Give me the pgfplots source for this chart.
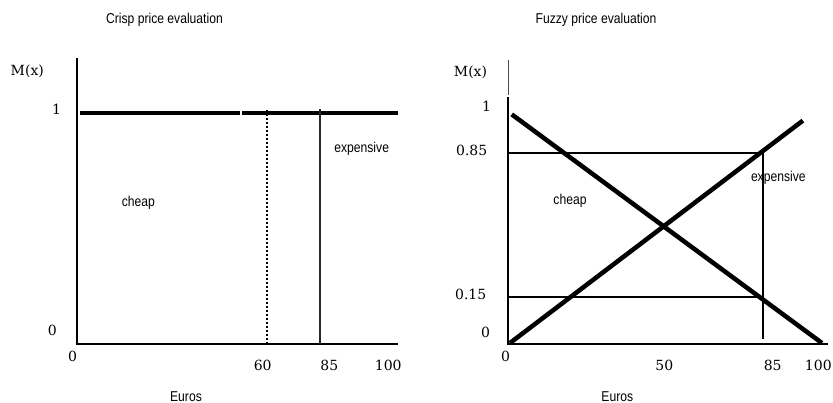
\documentclass[border=0pt]{standalone}
\usepackage{pgfplots}
\pgfplotsset{compat=1.18}
\usepackage{fontspec}
\setmainfont{DejaVu Serif}
\newfontfamily\narrow[FakeStretch=0.85]{Liberation Sans}
% pixel position of the reference -> picture coordinates
\newcommand\pp[2]{({#1*0.75pt},{-#2*0.75pt})}
\newcommand\num{\fontsize{10.5pt}{12pt}\selectfont}
\newcommand\lab{\narrow\fontsize{10.7pt}{12pt}\selectfont}

\begin{document}
\begin{tikzpicture}
\path[use as bounding box] \pp{0}{0} rectangle \pp{833}{403};

% ---------- crisp ----------
\begin{axis}[
    at={(57.75pt,-258pt)}, anchor=south west,
    x=2.4075pt, y=173.25pt,
    xmin=0, xmax=100, ymin=0, ymax=1.238,
    axis lines=none, clip=false,
    xtick=\empty, ytick=\empty,
]
\draw[line width=1.6pt] (axis cs:0,1.238) -- (axis cs:0,0) -- (axis cs:100,0);
\addplot[black, line width=3.7pt] coordinates {(0.9,1) (50.8,1)};
\addplot[black, line width=3.7pt] coordinates {(51.4,1) (100,1)};
\addplot[black, line width=1.7pt, dash pattern=on 1.5pt off 1.5pt] coordinates {(59.2,1.013) (59.2,0)};
\addplot[black!85, line width=1.5pt] coordinates {(75.8,1.017) (75.8,0)};
\end{axis}

% ---------- fuzzy ----------
\begin{axis}[
    at={(381pt,-258pt)}, anchor=south west,
    x=2.355pt, y=173.25pt,
    xmin=0, xmax=101.9, ymin=0, ymax=1.238,
    axis lines=none, clip=false,
    xtick=\empty, ytick=\empty,
]
\draw[black!70, line width=0.6pt] (axis cs:0,1.23) -- (axis cs:0,1.078);
\draw[line width=1.6pt] (axis cs:0,1.07) -- (axis cs:0,0) -- (axis cs:101.9,0);
\addplot[black, line width=3.4pt] coordinates {(1.2,0.994) (100,0.004)};
\addplot[black, line width=3.4pt] coordinates {(0.6,0.004) (93.9,0.967)};
\addplot[black, line width=1.35pt] coordinates {(0,0.826) (81.3,0.826)};
\addplot[black, line width=1.35pt] coordinates {(0,0.202) (81.3,0.202)};
\addplot[black, line width=1.35pt] coordinates {(81.3,0.826) (81.3,0.02)};
\end{axis}

% ---------- texts ----------
\node[font=\lab] at \pp{164.5}{20} {Crisp price evaluation};
\node[font=\lab] at \pp{596}{20} {Fuzzy price evaluation};
\node[font=\num] at \pp{27.3}{71.7} {M(x)};
\node[font=\num] at \pp{470.5}{72} {M(x)};
\node[font=\num] at \pp{56.7}{109} {1};
\node[font=\num] at \pp{52.3}{330} {0};
\node[font=\num] at \pp{72.7}{356.7} {0};
\node[font=\num] at \pp{262.7}{365.7} {60};
\node[font=\num] at \pp{329.3}{365.7} {85};
\node[font=\num] at \pp{388.3}{365.7} {100};
\node[font=\num] at \pp{486.7}{106.7} {1};
\node[font=\num] at \pp{471.7}{150} {0.85};
\node[font=\num] at \pp{470.7}{294.3} {0.15};
\node[font=\num] at \pp{485.7}{332.3} {0};
\node[font=\num] at \pp{505.7}{356.7} {0};
\node[font=\num] at \pp{664.3}{365.7} {50};
\node[font=\num] at \pp{772.7}{365.7} {85};
\node[font=\num] at \pp{818.3}{365.7} {100};
\node[font=\lab] at \pp{186}{396.7} {Euros};
\node[font=\lab] at \pp{617.3}{396.7} {Euros};
\node[font=\lab] at \pp{361.7}{149} {expensive};
\node[font=\lab] at \pp{778.3}{178.3} {expensive};
\node[font=\lab] at \pp{138.3}{203} {cheap};
\node[font=\lab] at \pp{570}{201} {cheap};
\end{tikzpicture}
\end{document}
